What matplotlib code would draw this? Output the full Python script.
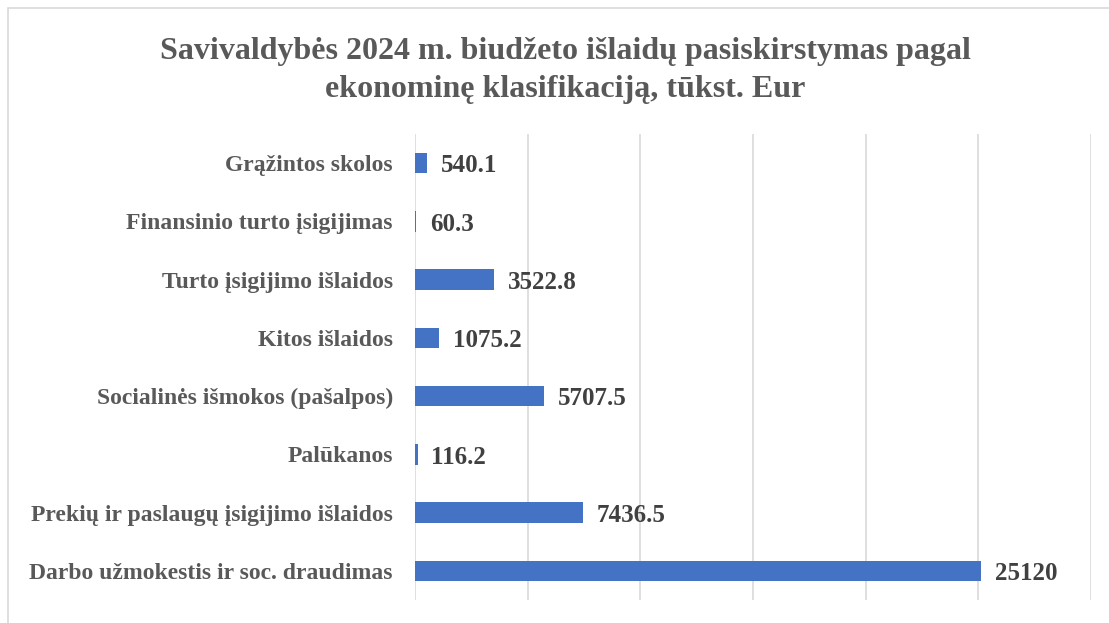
import matplotlib
matplotlib.use('Agg')
import matplotlib.pyplot as plt
from matplotlib.patches import Rectangle

plt.rcParams['font.family'] = ['Liberation Serif', 'DejaVu Serif']

# duomenys (iš apačios į viršų)
categories = [
    'Darbo užmokestis ir soc. draudimas',
    'Prekių ir paslaugų įsigijimo išlaidos',
    'Palūkanos',
    'Socialinės išmokos (pašalpos)',
    'Kitos išlaidos',
    'Turto įsigijimo išlaidos',
    'Finansinio turto įsigijimas',
    'Grąžintos skolos',
]
values = [25120, 7436.5, 116.2, 5707.5, 1075.2, 3522.8, 60.3, 540.1]
value_labels = ['25120', '7436.5', '116.2', '5707.5', '1075.2', '3522.8', '60.3', '540.1']
grid_ticks = [0, 5000, 10000, 15000, 20000, 25000, 30000]

title = 'Savivaldybės 2024 m. biudžeto išlaidų pasiskirstymas pagal\nekonominę klasifikaciją, tūkst. Eur'

fig = plt.figure(figsize=(11.09, 6.23), dpi=100)
ax = fig.add_axes([0.3742, 0.037, 0.6096, 0.748])

# rėmelis aplink diagramą
fig.patches.append(Rectangle((8 / 1109, -0.1), 1.2, 1 - 8 / 623 + 0.1,
                             transform=fig.transFigure, fill=False,
                             edgecolor='#D9D9D9', linewidth=1.2))

y = range(len(categories))
ax.barh(y, values, height=0.35, color='#4472C4', zorder=3)

for yi, v, lbl in zip(y, values, value_labels):
    ax.annotate(lbl, xy=(v, yi), xytext=(10, -2), textcoords='offset points',
                va='center', ha='left', fontsize=18, fontweight='bold',
                color='#404040')

ax.set_xlim(0, 30000)
ax.set_ylim(-0.5, len(categories) - 0.5)
ax.set_xticks(grid_ticks)
ax.set_xticklabels([])
ax.tick_params(axis='x', length=0)
ax.grid(axis='x', color='#D9D9D9', linewidth=1.2, zorder=0)
ax.set_yticks(list(y))
ax.set_yticklabels(categories, fontsize=17, fontweight='bold', color='#595959')
ax.tick_params(axis='y', length=0, pad=16)
for s in ax.spines.values():
    s.set_visible(False)

fig.text(0.51, 0.94, title, ha='center', va='top', fontsize=23,
         fontweight='bold', color='#595959', linespacing=1.38)

plt.savefig('out.png', dpi=100)
plt.close(fig)
